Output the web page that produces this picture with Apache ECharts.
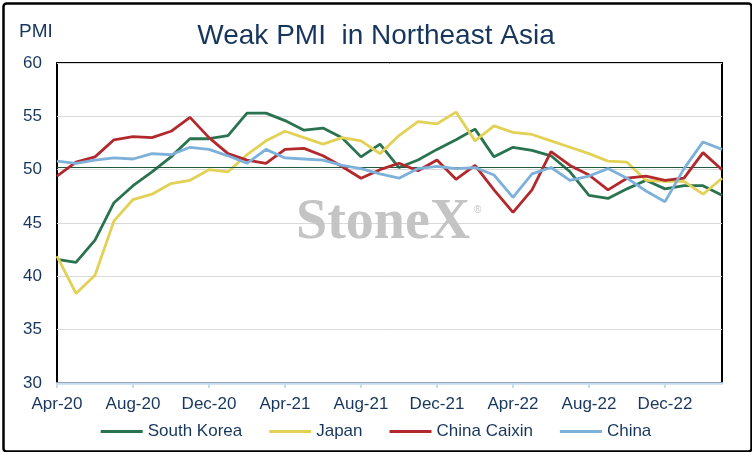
<!DOCTYPE html>
<html>
<head>
<meta charset="utf-8">
<title>Weak PMI in Northeast Asia</title>
<script src="https://cdn.jsdelivr.net/npm/echarts@6/dist/echarts.min.js"></script>
<style>
  html, body { margin: 0; padding: 0; background: #fff; }
  #chart { width: 752px; height: 452px; }
</style>
</head>
<body>
<div id="chart"></div>
<script>
var months = [
  'Apr-20','May-20','Jun-20','Jul-20','Aug-20','Sep-20','Oct-20','Nov-20','Dec-20',
  'Jan-21','Feb-21','Mar-21','Apr-21','May-21','Jun-21','Jul-21','Aug-21','Sep-21','Oct-21','Nov-21','Dec-21',
  'Jan-22','Feb-22','Mar-22','Apr-22','May-22','Jun-22','Jul-22','Aug-22','Sep-22','Oct-22','Nov-22','Dec-22',
  'Jan-23','Feb-23','Mar-23'
];
var southKorea = [41.6,41.3,43.4,46.9,48.5,49.8,51.2,52.9,52.9,53.2,55.3,55.3,54.6,53.7,53.9,53.0,51.2,52.4,50.2,50.9,51.9,52.8,53.8,51.2,52.1,51.8,51.3,49.8,47.6,47.3,48.2,49.0,48.2,48.5,48.5,47.6];
var japan = [41.9,38.4,40.1,45.2,47.2,47.7,48.7,49.0,50.0,49.8,51.4,52.7,53.6,53.0,52.4,53.0,52.7,51.5,53.2,54.5,54.3,55.4,52.7,54.1,53.5,53.3,52.7,52.1,51.5,50.8,50.7,49.0,48.9,48.9,47.7,49.2];
var chinaCaixin = [49.4,50.7,51.2,52.8,53.1,53.0,53.6,54.9,53.0,51.5,50.9,50.6,51.9,52.0,51.3,50.3,49.2,50.0,50.6,49.9,50.9,49.1,50.4,48.1,46.0,48.1,51.7,50.4,49.5,48.1,49.2,49.4,49.0,49.2,51.6,50.0];
var china = [50.8,50.6,50.9,51.1,51.0,51.5,51.4,52.1,51.9,51.3,50.6,51.9,51.1,51.0,50.9,50.4,50.1,49.6,49.2,50.1,50.3,50.1,50.2,49.5,47.4,49.6,50.2,49.0,49.4,50.1,49.2,48.0,47.0,50.1,52.6,51.9];
var refLevel = 50.25;

var seriesNames = ['South Korea','Japan','China Caixin','China'];
var seriesData = [southKorea, japan, chinaCaixin, china];
var seriesColors = ['#2a7350','#e3d156','#b3282d','#7eb1da'];

var textColor = '#17365d';
var fontName = '"Liberation Sans", Arial, sans-serif';

var chart = echarts.init(document.getElementById('chart'));

var series = [];
for (var i = 0; i < seriesNames.length; i++) {
    var s = {
        name: seriesNames[i],
        type: 'line',
        data: seriesData[i],
        showSymbol: false,
        symbol: 'none',
        lineStyle: { color: seriesColors[i], width: 2.8 },
        itemStyle: { color: seriesColors[i] },
        z: 3 + i
    };
    if (i == 0) {
        // thin reference line just above 50
        s.markLine = {
            silent: true,
            symbol: 'none',
            label: { show: false },
            lineStyle: { color: '#1f5a3c', width: 1, type: 'solid' },
            data: [{ yAxis: refLevel }]
        };
    }
    series.push(s);
}

var option = {
    animation: false,
    backgroundColor: '#fff',
    textStyle: { fontFamily: fontName },
    title: {
        text: 'Weak PMI  in Northeast Asia',
        left: 'center',
        top: 17,
        textStyle: { color: textColor, fontSize: 28, fontWeight: 'normal', fontFamily: fontName }
    },
    legend: {
        bottom: 7,
        left: 'center',
        icon: 'rect',
        itemWidth: 42,
        itemHeight: 3,
        itemGap: 27,
        textStyle: { color: textColor, fontSize: 17, fontFamily: fontName },
        data: seriesNames
    },
    grid: {
        left: 57,
        right: 30,
        top: 63,
        bottom: 69,
        show: true,
        borderColor: '#000',
        borderWidth: 2,
        containLabel: false
    },
    xAxis: {
        type: 'category',
        data: months,
        boundaryGap: false,
        axisLine: { show: true, lineStyle: { color: '#c6dcf2', width: 2.5 } },
        axisTick: {
            show: true,
            interval: 3,
            length: 5,
            lineStyle: { color: '#c6dcf2', width: 2 }
        },
        axisLabel: {
            interval: 3,
            color: textColor,
            fontSize: 17,
            margin: 13,
            fontFamily: fontName
        },
        splitLine: { show: false }
    },
    yAxis: {
        type: 'value',
        min: 30,
        max: 60,
        interval: 5,
        axisLine: { show: false },
        axisTick: { show: false },
        axisLabel: { color: textColor, fontSize: 17, margin: 15, fontFamily: fontName },
        splitLine: { show: true, lineStyle: { color: '#d9d9d9', width: 1 } }
    },
    graphic: [
        {
            type: 'rect',
            left: 1, top: 1,
            shape: { width: 748, height: 448, r: 3 },
            style: { fill: 'none', stroke: '#000', lineWidth: 2.5 },
            silent: true, z: 100
        },
        {
            type: 'text',
            left: 19, top: 22,
            style: { text: 'PMI', fill: textColor, font: '19px ' + fontName },
            silent: true
        },
        {
            type: 'text',
            left: 296, top: 196,
            style: { text: 'StoneX', fill: '#c4c4c4', font: 'bold 56px "Liberation Serif", "DejaVu Serif", serif' },
            silent: true, z: 1
        },
        {
            type: 'text',
            left: 474, top: 205,
            style: { text: '®', fill: '#c4c4c4', font: '10px ' + fontName },
            silent: true, z: 1
        }
    ],
    series: series
};

chart.setOption(option);
</script>
</body>
</html>
